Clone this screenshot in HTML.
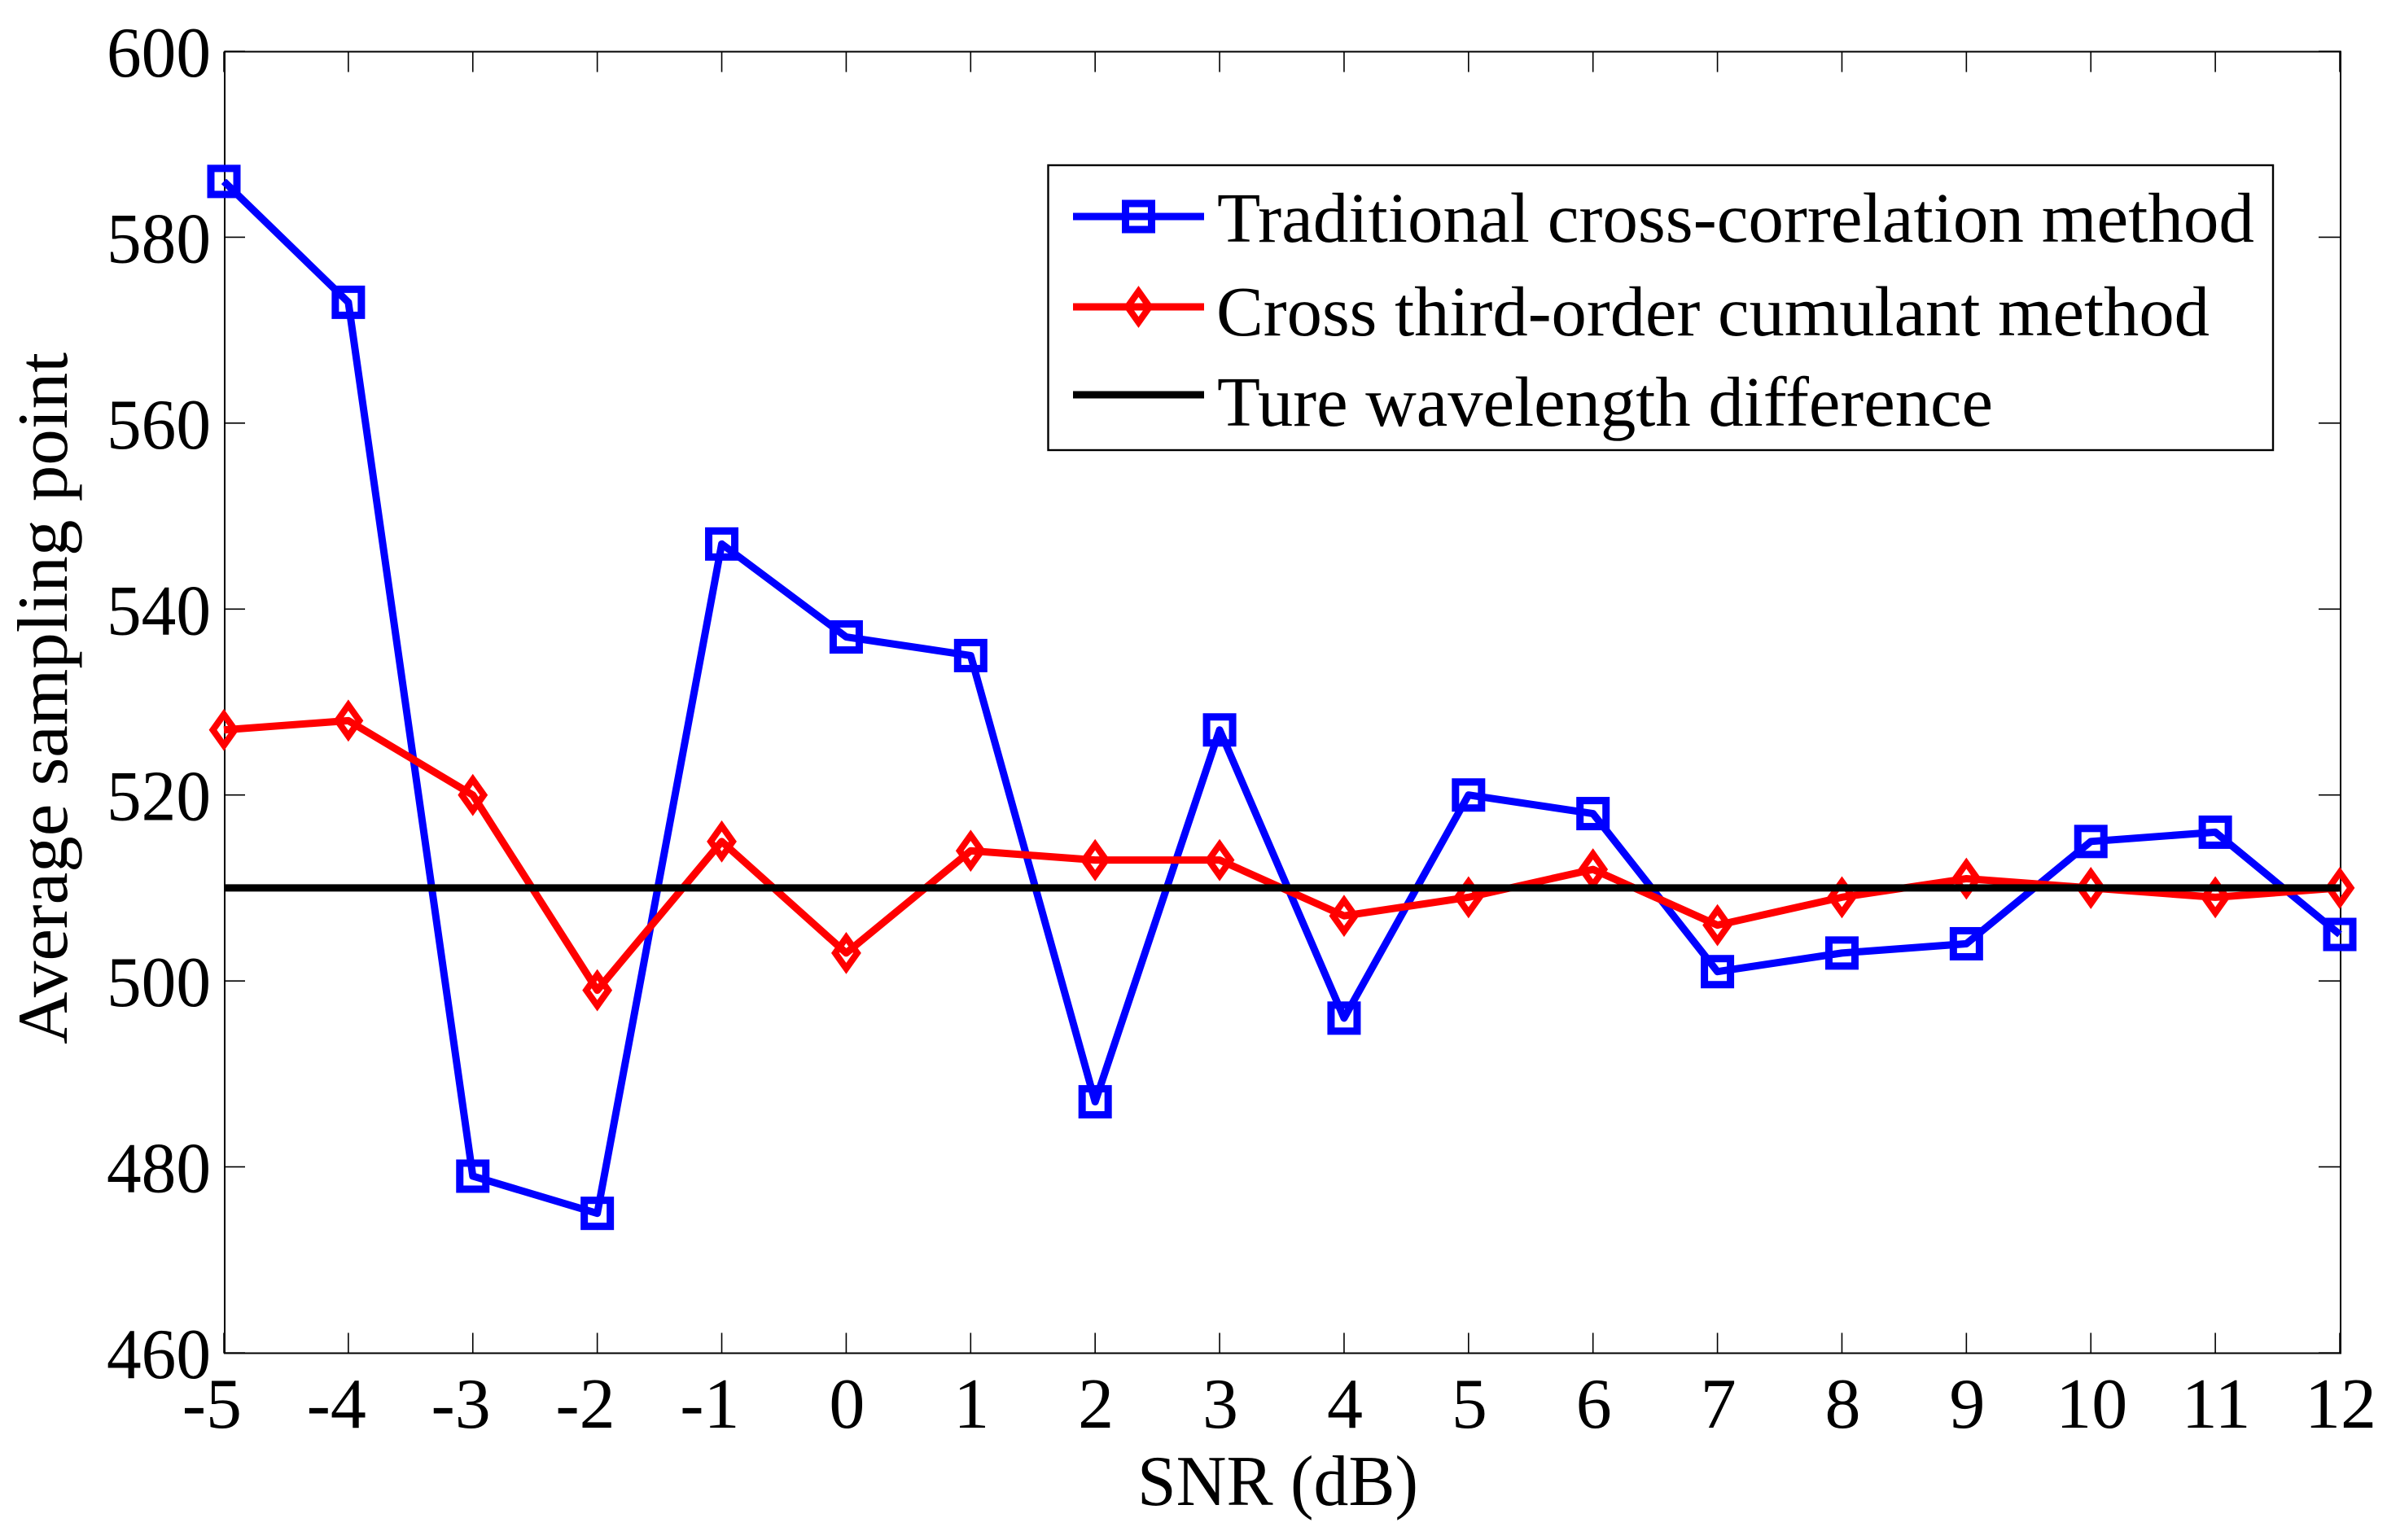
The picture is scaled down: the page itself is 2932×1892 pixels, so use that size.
<!DOCTYPE html>
<html lang="en">
<head>
<meta charset="utf-8">
<title>Average sampling point vs SNR</title>
<style>
html,body{margin:0;padding:0;background:#fff;}
svg{display:block;}
text{font-family:"Liberation Serif",serif;fill:#000;}
</style>
</head>
<body>
<svg id="chart" xmlns="http://www.w3.org/2000/svg" width="2932" height="1892" viewBox="0 0 2932 1892">
<rect x="0" y="0" width="2932" height="1892" fill="#fff"/>
<g id="axes"></g>
<g id="series"></g>
<g>
<rect x="1287.5" y="203" width="1504.5" height="350" fill="#fff" stroke="#000" stroke-width="2.4"/>
<g>
<line x1="1318" y1="266" x2="1479" y2="266" stroke="#0000ff" stroke-width="9"/>
<rect x="1382.5" y="250" width="32" height="32" fill="none" stroke="#0000ff" stroke-width="9"/>
<text x="1495" y="297" font-size="87" textLength="1274" lengthAdjust="spacingAndGlyphs">Traditional cross-correlation method</text>
</g>
<g>
<line x1="1318" y1="377" x2="1479" y2="377" stroke="#ff0000" stroke-width="9"/>
<polygon points="1398.5,358 1412,377 1398.5,396 1385,377" fill="none" stroke="#ff0000" stroke-width="8"/>
<text x="1494" y="412" font-size="87" textLength="1220" lengthAdjust="spacingAndGlyphs">Cross third-order cumulant method</text>
</g>
<g>
<line x1="1318" y1="485" x2="1479" y2="485" stroke="#000" stroke-width="9"/>
<text x="1495" y="523" font-size="87" textLength="953" lengthAdjust="spacingAndGlyphs">Ture wavelength difference</text>
</g>
</g>
<text x="1397" y="1849" font-size="88" textLength="345" lengthAdjust="spacingAndGlyphs">SNR (dB)</text>
<text transform="translate(82,1283) rotate(-90)" x="0" y="0" font-size="88" textLength="850" lengthAdjust="spacingAndGlyphs">Average sampling point</text>
</svg>
<script>
const categories = [-5,-4,-3,-2,-1,0,1,2,3,4,5,6,7,8,9,10,11,12];
const traditionalValues = [586,573,479,475,547,537,535,487,527,496,520,518,501,503,504,515,516,505];
const cumulantValues = [527,528,520,499,515,503,514,513,513,507,509,512,506,509,511,510,509,510];
const trueWavelengthValues = [510,510,510,510,510,510,510,510,510,510,510,510,510,510,510,510,510,510];
const yTickLabels = [460,480,500,520,540,560,580,600];

const NS = 'http://www.w3.org/2000/svg';
const frameLeft = 276, frameRight = 2875, frameTop = 63.5, frameBottom = 1662.5;
const scaleLeft = 276, scaleRight = 2875, scaleTop = 63, scaleBottom = 1662;
function xScale(v){ return scaleLeft + (v - (-5)) / 17 * (scaleRight - scaleLeft) - 1; }
function yScale(v){ return scaleBottom - (v - 460) / 140 * (scaleBottom - scaleTop); }
function make(tag, props, parent){
  const el = document.createElementNS(NS, tag);
  for (const k in props) el.setAttribute(k, props[k]);
  parent.appendChild(el);
  return el;
}
const axes = document.getElementById('axes');
const seriesLayer = document.getElementById('series');

const frame = make('rect', {x:frameLeft, y:frameTop, width:frameRight-frameLeft, height:frameBottom-frameTop, fill:'none', stroke:'#000', 'stroke-width':2}, axes);



yTickLabels.forEach(function(v){
  const y = yScale(v);
  const tl = make('line', {x1:frameLeft, y1:y, x2:frameLeft+25, y2:y, stroke:'#000', 'stroke-width':1.6}, axes);
  
  
  const tr = make('line', {x1:frameRight, y1:y, x2:frameRight-27, y2:y, stroke:'#000', 'stroke-width':1.6}, axes);
  
  
  const t = make('text', {x:259, y:y+31, 'font-size':88, 'text-anchor':'end', textLength:128, lengthAdjust:'spacingAndGlyphs'}, axes);
  
  
  t.textContent = String(v);
});

categories.forEach(function(v){
  const x = xScale(v);
  const tb = make('line', {x1:x, y1:frameBottom, x2:x, y2:frameBottom-25, stroke:'#000', 'stroke-width':1.6}, axes);
  
  
  const tt = make('line', {x1:x, y1:frameTop, x2:x, y2:frameTop+25, stroke:'#000', 'stroke-width':1.6}, axes);
  
  
  const labelProps = v < 0
    ? {x:x+22, y:1754, 'font-size':88, 'text-anchor':'end'}
    : {x:x+1, y:1754, 'font-size':88, 'text-anchor':'middle'};
  const t = make('text', labelProps, axes);
  
  
  t.textContent = String(v);
});

function linePoints(values){
  return values.map(function(v,i){ return xScale(categories[i]) + ',' + yScale(v); }).join(' ');
}

const blueLine = make('polyline', {points:linePoints(traditionalValues), fill:'none', stroke:'#0000ff', 'stroke-width':9, 'stroke-linejoin':'round'}, seriesLayer);


traditionalValues.forEach(function(v,i){
  const cx = xScale(categories[i]), cy = yScale(v);
  const m = make('rect', {x:cx-16, y:cy-16, width:32, height:32, fill:'none', stroke:'#0000ff', 'stroke-width':9}, seriesLayer);
  
  
});

const redLine = make('polyline', {points:linePoints(cumulantValues), fill:'none', stroke:'#ff0000', 'stroke-width':9, 'stroke-linejoin':'round'}, seriesLayer);


cumulantValues.forEach(function(v,i){
  const cx = xScale(categories[i]), cy = yScale(v);
  const pts = [cx+','+(cy-19), (cx+13.5)+','+cy, cx+','+(cy+19), (cx-13.5)+','+cy].join(' ');
  const m = make('polygon', {points:pts, fill:'none', stroke:'#ff0000', 'stroke-width':8}, seriesLayer);
  
  
});

const blackLine = make('polyline', {points:linePoints(trueWavelengthValues), fill:'none', stroke:'#000', 'stroke-width':9}, seriesLayer);


</script>
</body>
</html>
